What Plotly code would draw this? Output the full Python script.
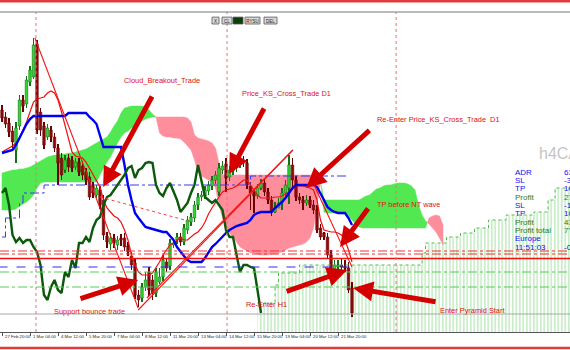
import plotly.graph_objects as go

# ---------------- data (H4 bars, price in points) ----------------
tick_bars = [0, 8, 16, 24, 32, 40, 48, 56, 64, 72, 80, 88, 96]
tick_labels = ["27 Feb 20:00", "1 Mar 04:00", "4 Mar 12:00", "5 Mar 20:00", "7 Mar 04:00",
               "8 Mar 12:00", "11 Mar 20:00", "13 Mar 04:00", "14 Mar 12:00", "15 Mar 20:00",
               "19 Mar 04:00", "20 Mar 12:00", "21 Mar 20:00"]

open_ = [222, 215, 209, 201, 182, 206, 232, 228, 250, 255,
         288, 220, 206, 195, 202, 195, 184, 174, 162, 174,
         172, 165, 170, 166, 160, 155, 146, 137, 142, 132,
         96, 88, 94, 87, 94, 94, 86, 76, 69, 37,
         34, 45, 60, 52, 39, 50, 55, 70, 66, 87,
         92, 95, 90, 102, 110, 114, 127, 135, 136, 141,
         146, 152, 140, 162, 168, 155, 161, 164, 168, 170,
         169, 146, 139, 136, 144, 149, 140, 132, 120, 124,
         129, 139, 144, 167, 152, 135, 132, 129, 132, 127,
         122, 104, 99, 95, 77, 62, 65, 67, 65, 64,
         44]
high = [227, 220, 214, 206, 210, 237, 237, 256, 266, 294,
        292, 224, 210, 208, 206, 199, 188, 179, 177, 178,
        176, 174, 174, 171, 164, 160, 150, 147, 146, 137,
        100, 99, 98, 96, 98, 99, 90, 80, 73, 42,
        49, 60, 65, 57, 64, 64, 77, 74, 93, 94,
        99, 99, 108, 116, 119, 131, 139, 141, 146, 151,
        156, 161, 169, 171, 174, 166, 168, 174, 175, 176,
        173, 150, 143, 148, 153, 153, 144, 136, 130, 134,
        144, 152, 177, 174, 156, 139, 136, 137, 136, 132,
        127, 108, 100, 99, 82, 72, 72, 74, 72, 70,
        50]
low = [210, 204, 195, 184, 169, 202, 220, 224, 246, 253,
       198, 196, 183, 192, 190, 180, 147, 152, 159, 160,
       160, 162, 156, 152, 147, 132, 134, 134, 123, 92,
       84, 82, 84, 82, 86, 81, 76, 62, 33, 25,
       30, 41, 36, 32, 35, 48, 51, 60, 62, 84,
       88, 86, 87, 98, 106, 110, 122, 131, 133, 137,
       142, 148, 136, 158, 140, 151, 157, 160, 164, 165,
       143, 122, 119, 133, 142, 136, 128, 116, 119, 125,
       122, 136, 128, 142, 131, 128, 122, 126, 124, 118,
       99, 92, 92, 74, 57, 58, 62, 61, 60, 39,
       15]
close = [214, 208, 200, 190, 204, 232, 226, 252, 262, 287,
         202, 202, 187, 204, 195, 184, 169, 157, 172, 165,
         164, 170, 160, 157, 152, 135, 139, 144, 127, 97,
         90, 94, 89, 92, 92, 85, 80, 67, 37, 32,
         45, 52, 42, 39, 60, 55, 72, 64, 89, 89,
         95, 90, 104, 112, 115, 127, 135, 137, 142, 147,
         152, 157, 164, 166, 154, 162, 164, 169, 170, 169,
         147, 139, 136, 144, 149, 140, 132, 120, 124, 129,
         139, 147, 167, 152, 135, 132, 129, 132, 127, 122,
         102, 95, 95, 77, 60, 67, 67, 65, 64, 42,
         19]

tenkan = [180, 182, 184, 186, 189, 194, 202, 210, 220, 230,
          233, 234, 235, 239, 241, 239, 232, 220, 207, 192,
          180, 176, 175, 174, 170, 164, 157, 152, 145, 132,
          124, 120, 116, 114, 110, 102, 92, 77, 67, 60,
          57, 57, 57, 59, 64, 70, 77, 82, 87, 89,
          92, 94, 92, 92, 95, 98, 100, 104, 110, 118,
          124, 130, 135, 140, 142, 143, 144, 146, 149, 152,
          152, 147, 142, 137, 134, 134, 134, 134, 135, 135,
          136, 138, 140, 144, 146, 146, 146, 145, 144, 142,
          132, 112, 102, 101, 100, 100, 99, 97, 92, 82,
          70]
kijun = [179, 180, 181, 182, 187, 194, 202, 208, 213, 216,
         216, 216, 216, 216, 216, 216, 216, 216, 216, 219,
         219, 219, 219, 219, 219, 215, 212, 208, 197, 185,
         185, 185, 185, 185, 185, 167, 147, 132, 119, 114,
         110, 105, 104, 103, 102, 101, 100, 100, 96, 92,
         85, 80, 76, 72, 70, 70, 70, 70, 74, 80,
         85, 88, 92, 95, 99, 102, 104, 106, 107, 108,
         109, 112, 117, 119, 120, 120, 120, 120, 124, 127,
         130, 134, 139, 144, 147, 147, 147, 147, 147, 147,
         145, 139, 132, 125, 122, 120, 119, 119, 119, 114,
         107]
senkou_a = [159, 160, 161, 162, 162, 163, 163, 164, 165, 167,
            169, 171, 173, 175, 176, 177, 177, 178, 178, 179,
            179, 180, 181, 182, 183, 185, 187, 189, 191, 193,
            195, 200, 206, 211, 219, 224, 225, 226, 226, 226,
            226, 225, 222, 218, 215, 199, 196, 195, 195, 194,
            194, 193, 190, 186, 182, 172, 160, 156, 154, 152,
            150, 144, 127, 114, 104, 99, 95, 90, 85, 83,
            81, 79, 79, 78, 77, 77, 77, 78, 78, 79,
            80, 82, 84, 85, 86, 87, 88, 90, 94, 104,
            127, 150, 132, 132, 132, 132, 132, 132, 132, 132,
            132, 132, 132, 134, 136, 137, 140, 143, 144, 146,
            147, 147, 148, 149, 149, 149, 148, 146, 142, 127,
            117, 111, 108, 104, 100, 94, 87]
senkou_b = [122, 122, 122, 122, 123, 126, 128, 130, 133, 137,
            144, 149, 150, 150, 150, 150, 150, 150, 150, 150,
            150, 150, 150, 150, 150, 150, 150, 150, 157, 164,
            170, 175, 182, 189, 195, 199, 201, 204, 206, 208,
            211, 213, 214, 215, 215, 215, 215, 215, 215, 215,
            215, 215, 215, 214, 210, 197, 194, 193, 192, 191,
            189, 184, 169, 157, 157, 157, 157, 157, 157, 157,
            157, 157, 157, 157, 157, 157, 157, 157, 157, 157,
            157, 157, 157, 157, 157, 157, 157, 157, 157, 157,
            156, 152, 120, 119, 119, 119, 119, 118, 118, 116,
            112, 108, 105, 104, 104, 104, 104, 104, 104, 104,
            104, 104, 104, 104, 104, 104, 104, 104, 104, 104,
            104, 104, 114, 116, 117, 116, 107]
kijun_d1_bars = [0, 1, 5, 6, 12, 71, 99]
kijun_d1 = [95, 114, 129, 139, 147, 156, 156]

zone_bars = [73, 78, 79, 85, 120, 121, 127, 131, 135, 139, 144, 152, 156, 158, 163]
zone_top = [29, 47, 59, 67, 79, 89, 95, 99, 104, 112, 117, 120, 132, 144, 144]

marker_bars = [9.7, 64.3, 112.6]
trend_lines = [((9.4, 294), (38.9, 24)), ((38.9, 22), (83.1, 182)),
               ((41.4, 34), (83.1, 182)), ((88.9, 149), (100.0, 65))]
dotted_line = ((28.0, 135), (54.3, 110))

arrows = [  # (head bar, head price, tail bar, tail price)
    (28.9, 145, 43.1, 237), (64.9, 158, 75.1, 225), (86.9, 144, 105.4, 203),
    (96.6, 85, 104.9, 125), (38.9, 52, 22.0, 33), (98.6, 62, 80.9, 40),
    (100.3, 44, 124.3, 30)]
notes = [("Cloud_Breakout_Trade", 45.7, 252), ("Price_KS_Cross_Trade D1", 81.4, 239),
         ("Re-Enter Price_KS_Cross_Trade  D1", 124.6, 213), ("TP before NT wave", 116.0, 128),
         ("Support bounce trade", 25.1, 21), ("Re-Enter H1", 75.7, 28),
         ("Enter Pyramid Start", 134.3, 22)]

info_labels = ["ADR", "SL", "TP", "Profit", "SL", "TP", "Profit", "Profit total", "Europe", "11:51:03"]
info_values = ["63", "-3", "10", "27", "-1", "10", "43", "7'", "", "-0"]
info_colors = ["#1010F0", "#1010F0", "#1010F0", "#1E7B1E", "#1010F0", "#1010F0",
               "#1E7B1E", "#1E7B1E", "#1010F0", "#1010F0"]

# ---------------- figure ----------------
n = len(close)
bars = list(range(n))
fig = go.Figure()
shapes = []


def cloud_runs(a, b):
    runs = []
    xs, ya, yb = [0], [a[0]], [b[0]]
    sign = a[0] >= b[0]
    for i in range(1, len(a)):
        s = a[i] >= b[i]
        if s != sign:
            d0, d1 = a[i - 1] - b[i - 1], a[i] - b[i]
            t = d0 / (d0 - d1) if d0 != d1 else 0.0
            xc = i - 1 + t
            yc = a[i - 1] + t * (a[i] - a[i - 1])
            xs.append(xc); ya.append(yc); yb.append(yc)
            runs.append((sign, xs, ya, yb))
            xs, ya, yb = [xc, i], [yc, a[i]], [yc, b[i]]
            sign = s
        else:
            xs.append(i); ya.append(a[i]); yb.append(b[i])
    runs.append((sign, xs, ya, yb))
    return runs


# cloud as background shapes (drawn under every trace)
for bull, xs, ya, yb in cloud_runs(senkou_a, senkou_b):
    col = "#52E852" if bull else "#FF8E9C"
    pts = list(zip(xs, ya)) + list(zip(xs[::-1], yb[::-1]))
    path = "M " + " L ".join(f"{px:.3f},{py:.3f}" for px, py in pts) + " Z"
    shapes.append(dict(type="path", path=path, xref="x", yref="y", layer="below",
                       fillcolor=col, line=dict(color=col, width=0.5)))

# dotted projection zone (patterned bars, one per future bar)
zx, zy = [], []
for k in range(len(zone_bars) - 1):
    for b in range(zone_bars[k], zone_bars[k + 1]):
        zx.append(b + 0.5)
        zy.append(zone_top[k])
fig.add_trace(go.Bar(x=zx, y=zy, width=1.0,
                     marker=dict(color="rgba(255,255,255,0)", line=dict(width=0),
                                 pattern=dict(shape="|", fgcolor="#74D274",
                                              bgcolor="rgba(255,255,255,0)", size=3.5, solidity=0.4)),
                     hoverinfo="skip", showlegend=False))
fig.add_trace(go.Scatter(x=zone_bars, y=zone_top, mode="lines", line_shape="hv",
                         line=dict(color="#4FC04F", width=1, dash="dot"),
                         hoverinfo="skip", showlegend=False))

# candles: wicks and bodies as bars
up = [c >= o for o, c in zip(open_, close)]
fig.add_trace(go.Bar(x=bars, y=[h - l for h, l in zip(high, low)], base=low, width=0.28,
                     marker=dict(color=["#166E16" if u else "#6A0000" for u in up], line=dict(width=0)),
                     hoverinfo="skip", showlegend=False))
fig.add_trace(go.Bar(x=bars, y=[max(abs(c - o), 0.8) for o, c in zip(open_, close)],
                     base=[min(o, c) for o, c in zip(open_, close)], width=0.72,
                     marker=dict(color=["#2BDB2B" if u else "#8E0A0A" for u in up],
                                 line=dict(color=["#166E16" if u else "#6A0000" for u in up], width=0.6)),
                     hoverinfo="skip", showlegend=False))

# D1 kijun (dash-dot step)
fig.add_trace(go.Scatter(x=kijun_d1_bars, y=kijun_d1, mode="lines", line_shape="hv",
                         line=dict(color="#3A3AF0", width=1, dash="dashdot"),
                         hoverinfo="skip", showlegend=False))
# tenkan, kijun, chikou
fig.add_trace(go.Scatter(x=bars, y=tenkan, mode="lines", line=dict(color="#F01010", width=1.2),
                         hoverinfo="skip", showlegend=False))
fig.add_trace(go.Scatter(x=bars, y=kijun, mode="lines", line=dict(color="#0000F0", width=2.4),
                         hoverinfo="skip", showlegend=False))
fig.add_trace(go.Scatter(x=[i - 26 for i in bars[26:]], y=close[26:], mode="lines",
                         line=dict(color="#0B5A0B", width=2.4), hoverinfo="skip", showlegend=False))

# trend lines
for (x0, y0), (x1, y1) in trend_lines:
    fig.add_trace(go.Scatter(x=[x0, x1], y=[y0, y1], mode="lines",
                             line=dict(color="#F01818", width=1.1), hoverinfo="skip", showlegend=False))
(dx0, dy0), (dx1, dy1) = dotted_line
fig.add_trace(go.Scatter(x=[dx0, dx1], y=[dy0, dy1], mode="lines",
                         line=dict(color="#F04040", width=1, dash="dot"), hoverinfo="skip", showlegend=False))

# horizontal levels
levels = [(81, "#F03030", "dashdot", 1), (78, "#F03030", "dashdot", 1), (73.5, "#F01010", "solid", 1.5),
          (60, "#5CC85C", "dashdot", 1), (45, "#5CC85C", "dashdot", 1), (18, "#A8A8A8", "solid", 1)]
for yv, col, dash, w in levels:
    shapes.append(dict(type="line", xref="paper", x0=0, x1=1, yref="y", y0=yv, y1=yv,
                       line=dict(color=col, dash=dash, width=w)))
shapes.append(dict(type="line", xref="x", x0=-1, x1=100, yref="y", y0=65, y1=65,
                   line=dict(color="#2F2FF0", dash="dash", width=1.2)))
# vertical time markers
for vb in marker_bars:
    shapes.append(dict(type="line", xref="x", x0=vb, x1=vb, yref="paper", y0=0, y1=1,
                       line=dict(color="#F07070", dash="dot", width=1)))
# frame
shapes.append(dict(type="rect", xref="paper", x0=0, x1=1, yref="paper", y0=1.030, y1=1.04,
                   fillcolor="#E23A3A", line=dict(width=0)))
shapes.append(dict(type="line", xref="paper", x0=0, x1=1, yref="paper", y0=1.0, y1=1.0,
                   line=dict(color="#777777", width=1)))
shapes.append(dict(type="rect", xref="paper", x0=0, x1=1, yref="paper", y0=-0.054, y1=-0.046,
                   fillcolor="#E23A3A", line=dict(width=0)))
# buttons
buttons = [("X", 212, 219, "#D8D8D8"), ("CL", 222, 232, "#D8D8D8"), ("", 233, 243, "#0B3D0B"),
           ("RYSU", 245, 260, "#D8D8D8"), ("DEL", 264, 277, "#D8D8D8")]
for lab, px0, px1, col in buttons:
    shapes.append(dict(type="rect", xref="paper", x0=px0 / 570, x1=px1 / 570, yref="paper",
                       y0=0.9625, y1=0.984, fillcolor=col, line=dict(color="#555555", width=0.8),
                       label=dict(text=lab, font=dict(size=4.5, color="#222222", family="Liberation Sans"))))

annotations = []
# arrows
for hx, hy, tx, ty in arrows:
    annotations.append(dict(x=hx, y=hy, ax=tx, ay=ty, xref="x", yref="y", axref="x", ayref="y",
                            text="", showarrow=True, arrowhead=2, arrowsize=0.8, arrowwidth=5,
                            arrowcolor="#D40000", standoff=0))
# labels
for txt, bx, py in notes:
    annotations.append(dict(text=txt, x=bx, y=py, xref="x", yref="y", showarrow=False,
                            font=dict(size=7.4, color="#E01010", family="Liberation Sans")))
# time axis labels
for tb, tl in zip(tick_bars, tick_labels):
    annotations.append(dict(text=tl, x=tb + 0.2, y=-0.014, xref="x", yref="paper", xanchor="left",
                            yanchor="middle", showarrow=False,
                            font=dict(size=4.3, color="#222222", family="Liberation Sans")))
# watermark + info panel
annotations.append(dict(text="h4CA", x=537 / 570, y=0.559, xref="paper", yref="paper",
                        xanchor="left", yanchor="middle", showarrow=False,
                        font=dict(size=16, color="#C4C4C4", family="Liberation Sans")))
for k, (lab, val, col) in enumerate(zip(info_labels, info_values, info_colors)):
    yy = (332 - (172 + 8.35 * k)) / 320
    annotations.append(dict(text=lab, x=514 / 570, y=yy, xref="paper", yref="paper", xanchor="left",
                            yanchor="middle", showarrow=False, borderpad=0,
                            font=dict(size=8, color=col, family="Liberation Sans")))
    if val:
        annotations.append(dict(text=val, x=563 / 570, y=yy, xref="paper", yref="paper", xanchor="left",
                                yanchor="middle", showarrow=False, borderpad=0,
                                font=dict(size=8, color=col, family="Liberation Sans")))

fig.update_layout(
    width=570, height=350, margin=dict(l=0, r=0, t=12, b=18),
    paper_bgcolor="white", plot_bgcolor="white", showlegend=False, barmode="overlay",
    shapes=shapes, annotations=annotations,
    xaxis=dict(range=[-0.571, 162.286], showgrid=False, zeroline=False, showline=True,
               linecolor="#555555", linewidth=1, ticks="outside", ticklen=3, tickcolor="#555555",
               tickvals=tick_bars, showticklabels=False, fixedrange=True),
    yaxis=dict(range=[0, 320], visible=False, fixedrange=True),
)
fig.write_html("out.html")
